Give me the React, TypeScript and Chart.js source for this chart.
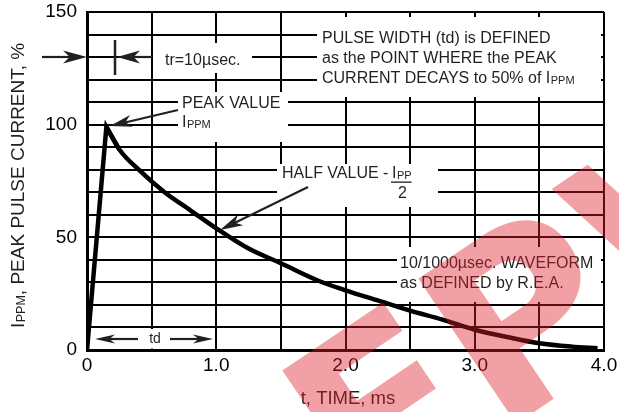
import React, { useEffect, useRef } from 'react';
import { Chart, registerables } from 'chart.js';

Chart.register(...registerables);

// ---- data ----
const timeMs = [0, 0.15, 0.25, 0.4, 0.6, 0.8, 1.0, 1.25, 1.5, 1.8, 2.0, 2.25, 2.5, 2.75, 3.0, 3.25, 3.5, 3.75, 3.95];
const currentPct = [0, 99, 89, 80, 70, 62, 54, 45, 38.5, 30.5, 26.5, 22, 17.5, 13.5, 9, 5.8, 3, 1.5, 0.8];
const xTickValues = [0, 1, 2, 3, 4];
const xTickLabels = ['0', '1.0', '2.0', '3.0', '4.0'];
const yTickValues = [0, 50, 100, 150];
const yTickLabels = ['0', '50', '100', '150'];

const FONT = '"Liberation Sans", Arial, sans-serif';
const TEXT = '#231f20';

function arrow(ctx: CanvasRenderingContext2D, x1: number, y1: number, x2: number, y2: number, len = 21, half = 6) {
  const a = Math.atan2(y2 - y1, x2 - x1);
  const c = Math.cos(a);
  const s = Math.sin(a);
  ctx.beginPath();
  ctx.moveTo(x1, y1);
  ctx.lineTo(x2 - c * len * 0.7, y2 - s * len * 0.7);
  ctx.stroke();
  ctx.beginPath();
  ctx.moveTo(x2, y2);
  ctx.lineTo(x2 - c * len + s * half, y2 - s * len - c * half);
  ctx.lineTo(x2 - c * len * 0.72, y2 - s * len * 0.72);
  ctx.lineTo(x2 - c * len - s * half, y2 - s * len + c * half);
  ctx.closePath();
  ctx.fill();
}

function subText(ctx: CanvasRenderingContext2D, x: number, y: number, main: string, sub: string, size: number, subSize: number) {
  ctx.font = `${size}px ${FONT}`;
  ctx.fillText(main, x, y);
  const w = ctx.measureText(main).width;
  ctx.font = `${subSize}px ${FONT}`;
  ctx.fillText(sub, x + w + 0.5, y + 1);
  return w + 0.5 + ctx.measureText(sub).width;
}

const annotations = {
  id: 'annotations',
  beforeDatasetsDraw(chart: any) {
    const ctx: CanvasRenderingContext2D = chart.ctx;
    ctx.save();
    ctx.fillStyle = '#ffffff';
    const boxes: [number, number, number, number][] = [
      [153, 43, 99, 30],
      [178, 92, 110, 50],
      [277, 164, 161, 43],
      [317, 17, 284, 80],
      [397, 247, 204, 55],
      [90, 329, 124, 19.5],
    ];
    boxes.forEach((b) => ctx.fillRect(b[0], b[1], b[2], b[3]));

    ctx.fillStyle = TEXT;
    ctx.textBaseline = 'alphabetic';
    ctx.textAlign = 'left';
    ctx.font = `16px ${FONT}`;
    ctx.fillText('tr=10\u00b5sec.', 165, 65);
    ctx.fillText('PEAK VALUE', 182, 108);
    subText(ctx, 182, 127, 'I', 'PPM', 16, 11);

    ctx.font = `16px ${FONT}`;
    ctx.fillText('PULSE WIDTH (td) is DEFINED', 322, 43);
    ctx.fillText('as the POINT WHERE the PEAK', 322, 63);
    subText(ctx, 322, 83, 'CURRENT DECAYS to 50% of I', 'PPM', 16, 11);

    ctx.font = `16px ${FONT}`;
    ctx.fillText('HALF VALUE -', 282, 178);
    const w = subText(ctx, 392, 178, 'I', 'PP', 16, 11);
    ctx.fillRect(391, 181.5, w + 1, 1.3);
    ctx.font = `16px ${FONT}`;
    ctx.fillText('2', 398, 198);

    ctx.fillText('10/1000\u00b5sec. WAVEFORM', 400, 268);
    ctx.fillText('as DEFINED by R.E.A.', 400, 288);

    ctx.font = `14px ${FONT}`;
    ctx.textAlign = 'center';
    ctx.fillText('td', 155, 343);

    // axis titles
    ctx.font = `18.5px ${FONT}`;
    ctx.fillText('t, TIME, ms', 348, 404);

    ctx.save();
    ctx.translate(24, 328);
    ctx.rotate(-Math.PI / 2);
    ctx.textAlign = 'left';
    const w1 = subText(ctx, 0, 0, 'I', 'PPM', 19, 12.5);
    ctx.font = `19px ${FONT}`;
    ctx.fillText(', PEAK PULSE CURRENT, %', w1, 0);
    ctx.restore();
    ctx.restore();
  },
  afterDatasetsDraw(chart: any) {
    const ctx: CanvasRenderingContext2D = chart.ctx;
    ctx.save();
    ctx.strokeStyle = TEXT;
    ctx.fillStyle = TEXT;
    ctx.lineWidth = 2.2;
    arrow(ctx, 42, 57, 87, 57, 24, 6.5);
    ctx.lineWidth = 2.5;
    ctx.beginPath();
    ctx.moveTo(115, 40);
    ctx.lineTo(115, 75);
    ctx.stroke();
    ctx.lineWidth = 2.2;
    arrow(ctx, 152, 57, 117, 57, 23, 6.5);
    arrow(ctx, 178, 110, 110, 126, 22, 6);
    arrow(ctx, 308, 187, 220, 230, 23, 6);
    arrow(ctx, 138, 339, 95, 339, 20, 4.5);
    arrow(ctx, 170, 339, 213, 339, 20, 4.5);
    ctx.restore();
  },
  afterDraw(chart: any) {
    const ctx: CanvasRenderingContext2D = chart.ctx;
    ctx.save();
    ctx.translate(362, 528);
    ctx.rotate((-34 * Math.PI) / 180);
    ctx.font = `bold 240px "DejaVu Sans", ${FONT}`;
    ctx.fillStyle = 'rgba(222, 30, 42, 0.42)';
    ctx.textBaseline = 'alphabetic';
    ctx.fillText('EPW', 0, 0);
    ctx.restore();
  },
};

export default function App() {
  const ref = useRef<HTMLCanvasElement | null>(null);
  useEffect(() => {
    document.body.style.margin = '0';
    if (!ref.current) return;
    const rise = timeMs.slice(0, 3).map((t, i) => ({ x: t, y: currentPct[i] }));
    const decay = timeMs.slice(1).map((t, i) => ({ x: t, y: currentPct[i + 1] }));
    const chart = new Chart(ref.current, {
      type: 'line',
      data: {
        datasets: [
          {
            data: rise,
            borderColor: '#000',
            borderWidth: 4.5,
            pointRadius: 0,
            tension: 0,
            borderJoinStyle: 'miter',
          },
          {
            data: decay,
            borderColor: '#000',
            borderWidth: 4.5,
            pointRadius: 0,
            cubicInterpolationMode: 'monotone',
          },
        ],
      },
      options: {
        responsive: false,
        animation: false,
        devicePixelRatio: 1,
        layout: { padding: { left: 0, right: 15, top: 12, bottom: 0 } },
        plugins: { legend: { display: false }, tooltip: { enabled: false } },
        scales: {
          x: {
            type: 'linear',
            min: 0,
            max: 4,
            afterFit: (s: any) => {
              s.height = 62;
              s.paddingLeft = 0;
              s.paddingRight = 0;
            },
            afterBuildTicks: (s: any) => {
              const t = [];
              for (let i = 0; i <= 8; i++) t.push({ value: i * 0.5 });
              s.ticks = t;
            },
            ticks: {
              autoSkip: false,
              maxRotation: 0,
              padding: 4,
              color: '#000',
              font: { family: FONT, size: 19 },
              callback: (v: any) => {
                const i = xTickValues.indexOf(Number(v));
                return i >= 0 ? xTickLabels[i] : '';
              },
            },
            grid: { color: '#000', lineWidth: 2, drawTicks: false },
            border: { color: '#000', width: 3 },
          },
          y: {
            type: 'linear',
            min: 0,
            max: 150,
            afterFit: (s: any) => {
              s.width = 87;
              s.paddingTop = 0;
              s.paddingBottom = 0;
            },
            afterBuildTicks: (s: any) => {
              const t = [];
              for (let i = 0; i <= 15; i++) t.push({ value: i * 10 });
              s.ticks = t;
            },
            ticks: {
              autoSkip: false,
              padding: 10,
              color: '#000',
              font: { family: FONT, size: 19 },
              callback: (v: any) => {
                const i = yTickValues.indexOf(Number(v));
                return i >= 0 ? yTickLabels[i] : '';
              },
            },
            grid: { color: '#000', lineWidth: 2, drawTicks: false },
            border: { color: '#000', width: 3 },
          },
        },
      },
      plugins: [annotations],
    });
    return () => chart.destroy();
  }, []);
  return (
    <div style={{ position: 'absolute', left: 0, top: 0, width: 619, height: 412 }}>
      <canvas ref={ref} width={619} height={412} />
    </div>
  );
}
